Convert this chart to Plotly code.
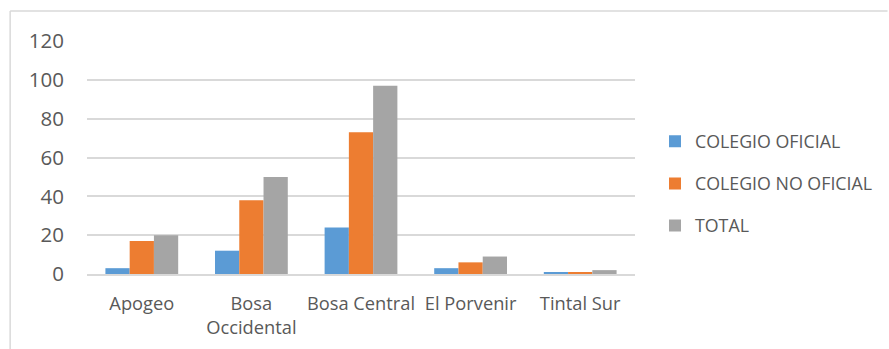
import plotly.graph_objects as go

# Data
categories = ["Apogeo", "Bosa<br>Occidental", "Bosa Central", "El Porvenir", "Tintal Sur"]
colegio_oficial = [3, 12, 24, 3, 1]
colegio_no_oficial = [17, 38, 73, 6, 1]
total = [20, 50, 97, 9, 2]
y_ticks = [0, 20, 40, 60, 80, 100, 120]

series = [
    ("COLEGIO OFICIAL", colegio_oficial, "#5B9BD5"),
    ("COLEGIO NO OFICIAL", colegio_no_oficial, "#ED7D31"),
    ("TOTAL", total, "#A5A5A5"),
]

W, H = 889, 349
L, R, T, B = 87, 253, 41, 74.5
pw = W - L - R
ph = H - T - B

fig = go.Figure()
for name, vals, color in series:
    fig.add_trace(go.Bar(
        x=categories, y=vals, name=name, marker_color=color,
        marker_line_width=0, legendgroup=name,
    ))

font_family = "Open Sans, Lato, sans-serif"
text_color = "#595959"
grid_color = "#D9D9D9"

fig.update_layout(
    width=W, height=H,
    margin=dict(l=L, r=R, t=T, b=B, pad=0),
    paper_bgcolor="white", plot_bgcolor="white",
    barmode="group", bargap=0.336, bargroupgap=0,
    font=dict(family=font_family, size=19, color=text_color),
    showlegend=True,
    legend=dict(
        x=(655 - L) / pw, y=(H - B - 184) / ph,
        xanchor="left", yanchor="middle",
        font=dict(size=17.8, color=text_color),
        tracegroupgap=16, bgcolor="rgba(0,0,0,0)",
    ),
    xaxis=dict(
        showgrid=False, showline=True, linecolor=grid_color, linewidth=1.5,
        ticks="", tickfont=dict(size=18.3, color=text_color),
        ticklabelstandoff=12, automargin=False,
    ),
    yaxis=dict(
        range=[0, 120], tickvals=y_ticks, showgrid=True, gridcolor=grid_color,
        gridwidth=1.5, zeroline=False, showline=False, ticks="",
        tickfont=dict(size=20.5, color=text_color), ticklabelstandoff=22,
        automargin=False,
    ),
    shapes=[
        # chart-area frame: top and left edges
        dict(type="line", xref="paper", yref="paper",
             x0=(10 - L) / pw, x1=(W - L) / pw,
             y0=(H - B - 11) / ph, y1=(H - B - 11) / ph,
             line=dict(color=grid_color, width=1.5)),
        dict(type="line", xref="paper", yref="paper",
             x0=(10 - L) / pw, x1=(10 - L) / pw,
             y0=(H - B - 11) / ph, y1=(H - B - 360) / ph,
             line=dict(color=grid_color, width=1.5)),
    ],
)

fig.write_html("out.html")
